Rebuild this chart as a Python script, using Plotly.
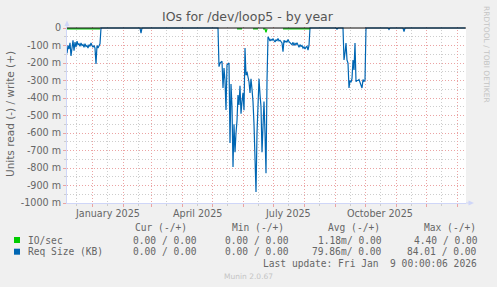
import datetime as dt
import plotly.graph_objects as go

# ---------------- data (milli-units, read side is negative) ----------------
req_read_dec_start = "2024-12-07"
req_read_dec = [-145, -100, -120, -85, -160, -95, -70, -130, -80, -110, -75, -95,
                -90, -105, -85, -100, -95, -110, -90, -105, -100, -115, -95, -105,
                -85, -100, -110, -100, -115, -205, -100, -115, -95, -90]

req_read_may_start = "2025-05-08"
req_read_may = [-221, -200, -195, -190, -343, -229, -300, -469, -210, -205, -200, -657,
                -320, -450, -794, -550, -710, -600, -530, -383, -440, -330, -490, -420,
                -370, -470, -114, -270, -250, -280, -307, -371, -290, -350, -420, -550,
                -700, -937, -600, -470, -290, -380, -450, -710, -560, -420, -600, -830,
                -300,
                -50, -60, -74, -65, -70, -62, -75, -80, -68, -72, -60, -74, -70, -78,
                -85, -135, -70, -80, -75, -82, -65, -78, -85, -90, -95, -82, -100, -88,
                -95, -85, -100, -110, -95, -105, -100, -115, -108, -120, -110, -105,
                -126, -100]

req_read_sep_start = "2025-09-10"
req_read_sep = [-183, -143, -86, -183, -200, -343, -300, -310, -290, -183, -240, -86,
                -307, -300, -300, -295, -310, -320, -343, -295, -305, -300]

# isolated small readings elsewhere (date, value)
req_read_single = [("2025-02-18", 0), ("2025-02-19", -30), ("2025-02-20", 0),
                   ("2025-09-02", 0), ("2025-09-03", -6), ("2025-09-04", 0),
                   ("2025-10-24", 0), ("2025-10-25", -8), ("2025-10-26", 0),
                   ("2025-11-08", 0), ("2025-11-09", -20), ("2025-11-10", 0),
                   ("2026-01-09", 0)]

io_read_dates = ["2024-12-07", "2025-01-09", "2025-01-10",
                 "2025-05-26", "2025-05-31", "2025-06-01",
                 "2025-06-11", "2025-06-16", "2025-06-17",
                 "2025-06-21", "2025-06-23", "2025-06-24", "2025-06-25", "2025-06-26",
                 "2025-07-11", "2025-08-07"]
io_read_vals = [-5, -5, None, -5, -5, None, -5, -5, None, -5, -5, -25, -5, None, -5, -5]

y_ticks = list(range(-1000, 1, 100))
y_ticktext = [("0" if v == 0 else f"{v} m") for v in y_ticks]
month_labels = [("2025-01-16", "January 2025"), ("2025-04-16", "April 2025"),
                ("2025-07-16", "July 2025"), ("2025-10-16", "October 2025")]

legend_header = ["Cur (-/+)", "Min (-/+)", "Avg (-/+)", "Max (-/+)"]
legend_rows = [("IO/sec", "#00CC00", ["0.00 / 0.00", "0.00 / 0.00", "1.18m/ 0.00", "4.40 / 0.00"]),
               ("Req Size (KB)", "#0066B3", ["0.00 / 0.00", "0.00 / 0.00", "79.86m/ 0.00", "84.01 / 0.00"])]
last_update = "Last update: Fri Jan \u00a09 00:00:06 2026"

# ---------------- build blue series ----------------
def d(s):
    return dt.date.fromisoformat(s)

pts = []
def add_seg(start, vals):
    s = d(start)
    pts.append((s - dt.timedelta(days=1), 0))
    for i, v in enumerate(vals):
        pts.append((s + dt.timedelta(days=i), v))
    pts.append((s + dt.timedelta(days=len(vals)), 0))

add_seg(req_read_dec_start, req_read_dec)
add_seg(req_read_may_start, req_read_may)
add_seg(req_read_sep_start, req_read_sep)
for s, v in req_read_single:
    pts.append((d(s), v))
pts = [p for p in pts if p[0] >= d("2024-12-07")]
pts.sort(key=lambda p: p[0])
bx = [p[0].isoformat() for p in pts]
by = [p[1] for p in pts]

# ---------------- layout helpers ----------------
W, H = 497, 287
L, R, T, B = 67, 466, 27, 203
def px(x):
    return (x - L) / (R - L)
def py(y):
    return (B - y) / (B - T)

FONT = "DejaVu Sans"
MONO = "DejaVu Sans Mono"
TXT = "#666666"
MGRID = "#EBA3A3"
GRID = "#CDCDCD"
DASH = "1px,2px"
AXIS = "#CFD6F8"

fig = go.Figure()
fig.add_trace(go.Scatter(x=bx, y=by, mode="lines",
                         line=dict(color="#0066B3", width=1.2), hoverinfo="skip"))
fig.add_trace(go.Scatter(x=io_read_dates, y=io_read_vals, mode="lines",
                         line=dict(color="#00CC00", width=1.2), connectgaps=False,
                         hoverinfo="skip"))
fig.add_trace(go.Scatter(x=["2024-12-07", "2026-01-10"], y=[0, 0], mode="lines",
                         line=dict(color="#000000", width=1), hoverinfo="skip"))

fig.update_layout(
    width=W, height=H,
    margin=dict(l=L, r=W - R, t=T, b=H - B, pad=0),
    paper_bgcolor="#F0F0F0", plot_bgcolor="#FFFFFF",
    showlegend=False,
    font=dict(family=FONT, size=10, color=TXT),
)
fig.update_xaxes(
    type="date", range=["2024-12-07", "2026-01-10"],
    tickmode="linear", tick0="2025-01-01", dtick="M1",
    showticklabels=False, ticks="outside", ticklen=3, tickcolor=MGRID,
    showgrid=True, gridcolor=MGRID, griddash=DASH, gridwidth=1,
    minor=dict(tick0="2024-12-16", dtick="M1", showgrid=True, gridcolor=GRID,
               griddash=DASH, ticks="outside", ticklen=2, tickcolor=GRID),
    showline=True, linecolor=AXIS, linewidth=1, zeroline=False, fixedrange=True,
)
fig.update_yaxes(
    range=[-1000, 5.7],
    tickmode="array", tickvals=y_ticks, ticktext=y_ticktext,
    tickfont=dict(family=FONT, size=9.6, color=TXT),
    ticks="outside", ticklen=3, tickcolor=MGRID,
    showgrid=True, gridcolor=MGRID, griddash=DASH, gridwidth=1,
    minor=dict(tickmode="array", tickvals=[v - 50 for v in y_ticks[1:]],
               showgrid=True, gridcolor=GRID, griddash=DASH,
               ticks="outside", ticklen=2, tickcolor=GRID),
    showline=True, linecolor=AXIS, linewidth=1, zeroline=False, fixedrange=True,
)

ann = []
def text(x, y, s, size=9.6, family=FONT, color=TXT, xanchor="left", angle=0):
    ann.append(dict(x=px(x), y=py(y), xref="paper", yref="paper", text=s,
                    showarrow=False, xanchor=xanchor, yanchor="middle",
                    textangle=angle, font=dict(family=family, size=size, color=color),
                    borderpad=0))

text(248, 17, "IOs for /dev/loop5 - by year", size=12.5, xanchor="center", color="#555555")
text(10, 114, "Units read (-) / write (+)", size=10.5, xanchor="center", angle=-90)
text(487, 54, "RRDTOOL / TOBI OETIKER", size=7.5, xanchor="center", angle=90, color="#C4C4C4")
text(248, 276, "Munin 2.0.67", size=7.5, xanchor="center", color="#C4C4C4")

for dstr, lab in month_labels:
    ann.append(dict(x=dstr, y=py(213), xref="x", yref="paper", text=lab,
                    showarrow=False, xanchor="center", yanchor="middle",
                    font=dict(family=FONT, size=9.6, color=TXT), borderpad=0))

hx = [134, 231, 327, 423]
for x, s in zip(hx, legend_header):
    text(x, 227.5, s, family=MONO)
row_y = [240, 251.7]
val_x = [[131.5, 224, 317.3, 413], [131.5, 224, 310.7, 406]]
shapes = []
for (name, col, vals), yy, xs in zip(legend_rows, row_y, val_x):
    text(26.5, yy, name, family=MONO)
    for x, s in zip(xs, vals):
        text(x, yy, s, family=MONO)
    shapes.append(dict(type="rect", xref="paper", yref="paper",
                       x0=px(14), x1=px(20), y0=py(yy + 3), y1=py(yy - 3),
                       fillcolor=col, line=dict(width=0)))
text(261.5, 263.3, last_update, family=MONO)

# axis arrows
shapes.append(dict(type="line", xref="paper", yref="paper", x0=px(67), x1=px(67),
                   y0=py(27), y1=py(23), line=dict(color=AXIS, width=1)))
shapes.append(dict(type="path", xref="paper", yref="paper",
                   path=f"M {px(64.5)} {py(26)} L {px(69.5)} {py(26)} L {px(67)} {py(20.5)} Z",
                   fillcolor=AXIS, line=dict(width=0)))
shapes.append(dict(type="line", xref="paper", yref="paper", x0=px(466), x1=px(469),
                   y0=py(203), y1=py(203), line=dict(color=AXIS, width=1)))
shapes.append(dict(type="path", xref="paper", yref="paper",
                   path=f"M {px(468.5)} {py(200.5)} L {px(468.5)} {py(205.5)} L {px(474)} {py(203)} Z",
                   fillcolor=AXIS, line=dict(width=0)))

fig.update_layout(annotations=ann, shapes=shapes)
fig.write_html("out.html")
